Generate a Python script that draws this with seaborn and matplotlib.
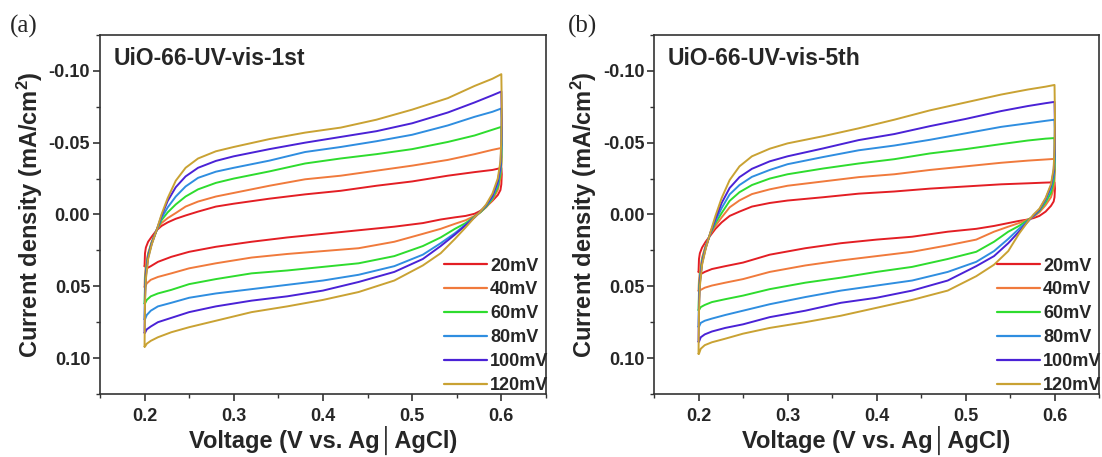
import matplotlib
matplotlib.use("Agg")
import matplotlib.pyplot as plt
import pandas as pd
import seaborn as sns
from matplotlib.lines import Line2D
from matplotlib.ticker import MultipleLocator, FormatStrFormatter

# ---------------- data ----------------
RATES = ["20mV", "40mV", "60mV", "80mV", "100mV", "120mV"]
COLORS = ["#E31E24", "#F07A3C", "#2EDC2E", "#2F8EE0", "#4A22D6", "#C9A233"]
TITLES = ["UiO-66-UV-vis-1st", "UiO-66-UV-vis-5th"]
PANEL_TAGS = ["(a)", "(b)"]
X_TICKS = [0.2, 0.3, 0.4, 0.5, 0.6]
Y_TICKS = [-0.10, -0.05, 0.00, 0.05, 0.10]

# potential grid of the forward (anodic) and reverse (cathodic) sweeps, V
V_FWD = [0.200, 0.2005, 0.2015, 0.204, 0.208, 0.2135, 0.219, 0.226, 0.235, 0.246, 0.260,
         0.280, 0.300, 0.340, 0.380, 0.420, 0.460, 0.500, 0.540, 0.570, 0.590, 0.600]
V_REV = [0.600, 0.6005, 0.600, 0.599, 0.596, 0.590, 0.583, 0.5765, 0.570, 0.560, 0.548, 0.532,
         0.512, 0.480, 0.440, 0.400, 0.360, 0.320, 0.280, 0.250, 0.230, 0.215, 0.207, 0.2025, 0.2005]

# panel (a) current density, mA/cm2
A_FWD_20 = [0.036, 0.027, 0.023, 0.019, 0.0155, 0.011, 0.008, 0.0055, 0.003, 0.0007, -0.002,
            -0.0055, -0.0075, -0.011, -0.014, -0.0165, -0.020, -0.023, -0.027, -0.0295, -0.031, -0.0324]
A_FWD_40 = [0.0505, 0.042, 0.035, 0.027, 0.019, 0.011, 0.006, 0.0025, -0.001, -0.0055, -0.009,
            -0.0125, -0.015, -0.020, -0.0245, -0.027, -0.0305, -0.034, -0.038, -0.042, -0.045, -0.0463]
A_FWD_60 = [0.062, 0.049, 0.039, 0.028, 0.0195, 0.011, 0.004, -0.0015, -0.007, -0.0125, -0.0175,
            -0.022, -0.025, -0.030, -0.0355, -0.039, -0.042, -0.0455, -0.0505, -0.055, -0.059, -0.061]
A_FWD_80 = [0.073, 0.054, 0.041, 0.029, 0.020, 0.011, 0.0025, -0.005, -0.0125, -0.0195, -0.0255,
            -0.0298, -0.0325, -0.0375, -0.0435, -0.047, -0.051, -0.0555, -0.062, -0.068, -0.0715, -0.0738]
A_FWD_100 = [0.0824, 0.058, 0.043, 0.030, 0.0205, 0.011, 0.001, -0.0095, -0.019, -0.0265, -0.0325,
             -0.0373, -0.0405, -0.0455, -0.050, -0.054, -0.058, -0.0635, -0.071, -0.078, -0.083, -0.0856]
A_FWD_120 = [0.092, 0.062, 0.045, 0.031, 0.021, 0.011, 0.0, -0.0115, -0.0235, -0.0325, -0.039,
             -0.044, -0.047, -0.0525, -0.057, -0.0605, -0.066, -0.073, -0.081, -0.0895, -0.0945, -0.0977]

A_REV_20 = [-0.0324, -0.028, -0.021, -0.017, -0.0135, -0.0095, -0.0055, -0.0025, -0.0005, 0.001, 0.002,
            0.0035, 0.006, 0.0085, 0.011, 0.0135, 0.016, 0.019, 0.0225, 0.026, 0.0295, 0.033, 0.036, 0.0375, 0.036]
A_REV_40 = [-0.0463, -0.040, -0.032, -0.025, -0.017, -0.010, -0.005, -0.0015, 0.001, 0.004, 0.0065,
            0.010, 0.0135, 0.019, 0.0235, 0.0255, 0.0275, 0.030, 0.034, 0.0375, 0.041, 0.0435, 0.0455, 0.048, 0.0505]
A_REV_60 = [-0.061, -0.049, -0.037, -0.028, -0.019, -0.011, -0.0055, -0.0015, 0.0015, 0.006, 0.010,
            0.016, 0.022, 0.029, 0.034, 0.0365, 0.039, 0.041, 0.045, 0.0485, 0.0525, 0.055, 0.057, 0.0595, 0.062]
A_REV_80 = [-0.0738, -0.057, -0.043, -0.031, -0.021, -0.012, -0.006, -0.002, 0.002, 0.007, 0.013,
            0.020, 0.028, 0.036, 0.042, 0.046, 0.049, 0.052, 0.055, 0.058, 0.0615, 0.064, 0.067, 0.070, 0.073]
A_REV_100 = [-0.0856, -0.066, -0.048, -0.034, -0.023, -0.013, -0.0065, -0.002, 0.002, 0.0075, 0.014,
             0.022, 0.031, 0.040, 0.047, 0.053, 0.057, 0.060, 0.064, 0.068, 0.072, 0.075, 0.078, 0.080, 0.0824]
A_REV_120 = [-0.0977, -0.075, -0.052, -0.037, -0.025, -0.0145, -0.007, -0.002, 0.002, 0.009, 0.017,
             0.027, 0.0355, 0.046, 0.054, 0.0595, 0.064, 0.068, 0.074, 0.0785, 0.082, 0.0855, 0.088, 0.090, 0.092]

# panel (b) current density, mA/cm2
B_FWD_20 = [0.040, 0.031, 0.027, 0.023, 0.019, 0.0145, 0.010, 0.0055, 0.001, -0.002, -0.0055,
            -0.008, -0.0097, -0.012, -0.0145, -0.016, -0.018, -0.0195, -0.021, -0.0217, -0.0222, -0.0224]
B_FWD_40 = [0.0532, 0.046, 0.040, 0.030, 0.0215, 0.0135, 0.008, 0.002, -0.005, -0.0098, -0.0142,
            -0.0175, -0.020, -0.023, -0.026, -0.028, -0.031, -0.0335, -0.036, -0.0375, -0.0383, -0.0387]
B_FWD_60 = [0.0666, 0.054, 0.044, 0.032, 0.0225, 0.013, 0.006, -0.001, -0.0095, -0.0155, -0.0205,
            -0.025, -0.028, -0.032, -0.0355, -0.0385, -0.0425, -0.0455, -0.049, -0.0515, -0.0528, -0.0532]
B_FWD_80 = [0.0782, 0.059, 0.046, 0.033, 0.023, 0.0125, 0.0045, -0.0045, -0.014, -0.0205, -0.0262,
            -0.031, -0.035, -0.040, -0.0447, -0.048, -0.052, -0.0565, -0.061, -0.0635, -0.0652, -0.066]
B_FWD_100 = [0.0886, 0.064, 0.048, 0.034, 0.0235, 0.0125, 0.003, -0.008, -0.0185, -0.026, -0.0318,
             -0.037, -0.0405, -0.046, -0.0518, -0.056, -0.0615, -0.0665, -0.072, -0.0755, -0.0775, -0.0784]
B_FWD_120 = [0.097, 0.068, 0.050, 0.035, 0.024, 0.012, 0.001, -0.0115, -0.024, -0.0335, -0.0405,
             -0.0458, -0.0495, -0.0545, -0.060, -0.066, -0.0725, -0.078, -0.0835, -0.087, -0.089, -0.0902]

B_REV_20 = [-0.0224, -0.018, -0.012, -0.009, -0.006, -0.002, 0.001, 0.0025, 0.0035, 0.0045, 0.006,
            0.008, 0.010, 0.012, 0.0155, 0.0175, 0.020, 0.0235, 0.028, 0.0335, 0.036, 0.038, 0.040, 0.0415, 0.040]
B_REV_40 = [-0.0387, -0.031, -0.024, -0.018, -0.012, -0.0065, -0.0015, 0.0015, 0.0035, 0.006, 0.0085,
            0.012, 0.0175, 0.0215, 0.026, 0.029, 0.032, 0.0355, 0.040, 0.045, 0.0475, 0.0495, 0.051, 0.0525, 0.0532]
B_REV_60 = [-0.0532, -0.041, -0.031, -0.023, -0.015, -0.0085, -0.0025, 0.001, 0.004, 0.008, 0.012,
            0.019, 0.026, 0.031, 0.0365, 0.040, 0.044, 0.0475, 0.052, 0.0565, 0.059, 0.061, 0.063, 0.0645, 0.0666]
B_REV_80 = [-0.066, -0.050, -0.037, -0.027, -0.018, -0.010, -0.003, 0.001, 0.0045, 0.010, 0.017,
            0.0255, 0.033, 0.040, 0.046, 0.0495, 0.053, 0.0575, 0.0625, 0.067, 0.070, 0.0725, 0.074, 0.0755, 0.0782]
B_REV_100 = [-0.0784, -0.060, -0.042, -0.030, -0.020, -0.011, -0.0035, 0.0005, 0.005, 0.012, 0.020,
             0.029, 0.036, 0.046, 0.053, 0.058, 0.0615, 0.067, 0.0715, 0.0765, 0.079, 0.0815, 0.0835, 0.0855, 0.0886]
B_REV_120 = [-0.0902, -0.068, -0.046, -0.032, -0.021, -0.0115, -0.004, 0.0, 0.005, 0.0135, 0.0255,
             0.035, 0.043, 0.053, 0.0595, 0.065, 0.0705, 0.075, 0.079, 0.083, 0.0865, 0.089, 0.091, 0.0935, 0.097]

A_FWD = [A_FWD_20, A_FWD_40, A_FWD_60, A_FWD_80, A_FWD_100, A_FWD_120]
A_REV = [A_REV_20, A_REV_40, A_REV_60, A_REV_80, A_REV_100, A_REV_120]
B_FWD = [B_FWD_20, B_FWD_40, B_FWD_60, B_FWD_80, B_FWD_100, B_FWD_120]
B_REV = [B_REV_20, B_REV_40, B_REV_60, B_REV_80, B_REV_100, B_REV_120]

# ---------------- long table ----------------
rows = []
for panel, fwd_set, rev_set in (("a", A_FWD, A_REV), ("b", B_FWD, B_REV)):
    for rate, fwd, rev in zip(RATES, fwd_set, rev_set):
        volts = V_FWD + V_REV + V_FWD[:1]
        amps = fwd + rev + fwd[:1]
        for step, (v, i) in enumerate(zip(volts, amps)):
            rows.append({"panel": panel, "rate": rate, "step": step, "V": v, "I": i})
df = pd.DataFrame(rows)

# ---------------- style ----------------
sns.set_style("ticks")
plt.rcParams["font.family"] = ["Liberation Sans", "DejaVu Sans"]
plt.rcParams["font.weight"] = "bold"
plt.rcParams["axes.labelweight"] = "bold"
plt.rcParams["axes.unicode_minus"] = False
plt.rcParams["mathtext.fontset"] = "custom"
plt.rcParams["mathtext.rm"] = "Liberation Sans:bold"
plt.rcParams["mathtext.bf"] = "Liberation Sans:bold"
plt.rcParams["mathtext.it"] = "Liberation Sans:bold:italic"

fig = plt.figure(figsize=(11.02, 4.57), dpi=100)
positions = [[0.0907, 0.1379, 0.4047, 0.7856], [0.5935, 0.1379, 0.4038, 0.7856]]
tag_x = [0.009, 0.515]

for k, panel in enumerate(["a", "b"]):
    ax = fig.add_axes(positions[k])
    sub = df[df["panel"] == panel]
    sns.lineplot(data=sub, x="V", y="I", hue="rate", hue_order=RATES, palette=COLORS,
                 sort=False, estimator=None, lw=1.4, legend=False, ax=ax)

    ax.set_xlim(0.15, 0.65)
    ax.set_ylim(0.125, -0.125)
    ax.set_xticks(X_TICKS)
    ax.set_yticks(Y_TICKS)
    ax.xaxis.set_minor_locator(MultipleLocator(0.05))
    ax.yaxis.set_minor_locator(MultipleLocator(0.025))
    ax.xaxis.set_major_formatter(FormatStrFormatter("%.1f"))
    ax.yaxis.set_major_formatter(FormatStrFormatter("%.2f"))
    ax.tick_params(axis="both", which="major", direction="out", length=5, width=1.2,
                   labelsize=13, color="#333333")
    ax.tick_params(axis="both", which="minor", direction="out", length=3, width=1.0,
                   color="#333333")
    ax.tick_params(axis="y", pad=2)
    ax.tick_params(axis="x", pad=5)
    for sp in ax.spines.values():
        sp.set_visible(True)
        sp.set_linewidth(1.2)
        sp.set_color("#333333")

    ax.set_xlabel("Voltage (V vs. Ag│AgCl)", fontsize=17, fontweight="bold", labelpad=1)
    ax.set_ylabel(r"Current density (mA/cm$^{\mathbf{2}}$)", fontsize=17,
                  fontweight="bold", labelpad=3)

    ax.text(0.03, 0.915, TITLES[k], transform=ax.transAxes, fontsize=16.5,
            fontweight="bold", va="baseline", ha="left")

    handles = [Line2D([], [], color=c, lw=1.6) for c in COLORS]
    ax.legend(handles, RATES, loc="lower right", bbox_to_anchor=(1.03, -0.03), frameon=False,
              handlelength=2.4, handletextpad=0.15, labelspacing=0.38, borderaxespad=0.2,
              prop={"size": 13, "weight": "bold"})

    fig.text(tag_x[k], 0.943, PANEL_TAGS[k], family="Liberation Serif", fontsize=18,
             fontweight="normal", va="center", ha="left")

fig.savefig("out.png", dpi=100)
